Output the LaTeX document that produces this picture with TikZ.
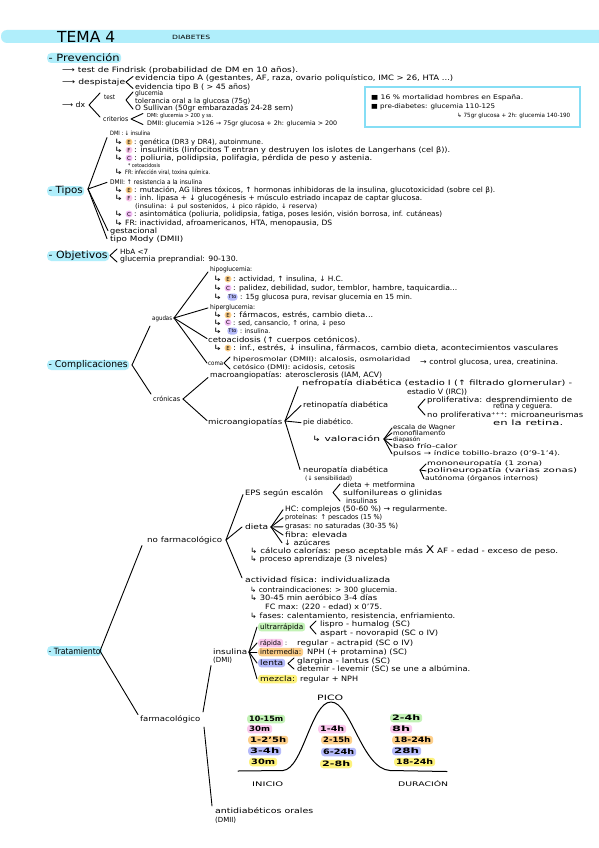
\documentclass[tikz,border=0pt]{standalone}
\usepackage{fontspec}
\setmainfont{DejaVu Sans}
\usepackage{graphicx}
\usetikzlibrary{calc}
\definecolor{hlblue}{HTML}{B0EEFB}
\definecolor{boxc}{HTML}{86DEF5}
\definecolor{corange}{HTML}{FDCF8A}
\definecolor{cpink}{HTML}{FAC8EC}
\definecolor{cviolet}{HTML}{F2BDF4}
\definecolor{cpurple}{HTML}{B5BAFA}
\definecolor{cgreen}{HTML}{C3F2B6}
\definecolor{cyellow}{HTML}{FDF27C}
\newsavebox\fitbox
\newcommand\fitw[2]{\sbox\fitbox{#2}\edef\fsx{\fpeval{(#1)/(\the\wd\fitbox)}}\edef\fsy{\fpeval{max(0.85,min(1.05,sqrt(\fsx)))}}\scalebox{\fsx}[\fsy]{\usebox\fitbox}}
\tikzset{
 txt/.style={anchor=mid west, inner sep=0pt, font=\fontsize{7}{8}\selectfont},
 sml/.style={anchor=mid west, inner sep=0pt, font=\fontsize{6}{7}\selectfont},
 badge/.style={circle, inner sep=0pt, minimum size=7pt, font=\fontsize{5.5}{6}\selectfont},
 ttob/.style={rounded corners=3pt, inner xsep=1pt, inner ysep=0pt, minimum height=7pt, font=\fontsize{5}{6}\selectfont, fill=cpurple},
 hlbox/.style={anchor=west, rounded corners=3pt, inner xsep=2pt, inner ysep=0.8pt, minimum height=8.5pt},
 sec/.style={anchor=west, fill=hlblue, rounded corners=4pt, inner xsep=1.5pt, inner ysep=0pt, minimum height=10pt, font=\fontsize{9.5}{10}\selectfont},
 ln/.style={line width=0.9pt, line cap=round, line join=round},
}
\newcommand\T[5]{\node[txt] (#1) at (#2,#3) {\fitw{#4}{#5}};}
\newcommand\Ts[5]{\node[sml] (#1) at (#2,#3) {\fitw{#4}{#5}};}
\newcommand\Bd[5]{\node[badge, fill=#4] (#1) at (#2,#3) {#5};}
\newcommand\Ar[3]{\node[txt] (#1) at (#2,#3) {\fitw{9}{↳}};}
\newcommand\Sec[5]{\node[sec] (#1) at (#2,#3) {\fitw{#4}{#5}};}
\newcommand\HL[6]{\node[hlbox, fill=#5, font=\fontsize{7}{8}\selectfont] (#1) at (#2,#3) {\fitw{#4}{#6}};}
\newcommand\Lb[6]{\node[hlbox, fill=#5, font=\fontsize{7}{8}\selectfont\bfseries] (#1) at (#2,#3) {\fitw{#4}{#6}};}
\begin{document}
\begin{tikzpicture}[x=1pt,y=-1pt]
\useasboundingbox[fill=white] (0,0) rectangle (599,848);
% header
\fill[hlblue, rounded corners=6pt] (1,30) rectangle (612,43);
\node[anchor=west, inner sep=0pt, font=\fontsize{15}{15}\selectfont] (tema) at (57,37) {\fitw{58}{TEMA 4}};
\node[anchor=west, inner sep=0pt, font=\fontsize{5.5}{6}\selectfont] (diab) at (172,37.5) {\fitw{38}{DIABETES}};
% ---------------- Prevencion
\Sec{sprev}{47}{58}{71}{- Prevención}
\T{p1}{62}{70}{236}{⟶ test de Findrisk (probabilidad de DM en 10 años).}
\T{p2}{62}{82}{63}{⟶ despistaje}
\draw[ln] (133,76.5) -- (126,82) -- (133,88.5);
\T{p2a}{135}{78}{318}{evidencia tipo A (gestantes, AF, raza, ovario poliquístico, IMC > 26, HTA ...)}
\T{p2b}{135}{87}{115}{evidencia tipo B ( > 45 años)}
\T{p3}{62}{105}{23}{⟶ dx}
\draw[ln] (100,93) -- (89,105) -- (100,117);
\T{p3t}{104}{97}{11}{test}
\draw[ln] (133,92) -- (126,100) -- (133,109);
\T{p3a}{135}{93}{28}{glucemia}
\T{p3b}{135}{101}{115}{tolerancia oral a la glucosa (75g)}
\T{p3c}{135}{108}{158}{O Sullivan (50gr embarazadas 24-28 sem)}
\T{p3k}{103}{119}{25}{criterios}
\draw[ln] (143,113.5) -- (131,119) -- (143,124.5);
\Ts{p3d}{147}{115}{66}{DMI: glucemia > 200 y ss.}
\Ts{p3e}{147}{123}{190}{DMII: glucemia >126 → 75gr glucosa + 2h: glucemia > 200}
% box
\draw[boxc, line width=1.6pt] (365,87) rectangle (580,127);
\Ts{b1}{371}{97}{152}{■ 16 \% mortalidad hombres en España.}
\Ts{b2}{371}{106}{124}{■ pre-diabetes: glucemia 110-125}
\Ts{b3}{457}{115}{113}{↳ 75gr glucosa + 2h: glucemia 140-190}
% ---------------- Tipos
\Sec{stip}{47}{191}{34}{- Tipos}
\T{d1}{110}{133}{40}{DMI : ↓ insulina}
\Ar{d1ea}{114}{142}\Bd{d1eb}{129}{142}{corange}{E}\T{d1e}{134}{142}{129}{: genética (DR3 y DR4), autoinmune.}
\Ar{d1fa}{114}{150}\Bd{d1fb}{129}{150}{cpink}{F}\T{d1f}{134}{150}{316}{: insulinitis (linfocitos T entran y destruyen los islotes de Langerhans (cel β)).}
\Ar{d1ca}{114}{158}\Bd{d1cb}{129}{158}{cviolet}{C}\T{d1c}{134}{158}{238}{: poliuria, polidipsia, polifagia, pérdida de peso y astenia.}
\Ts{d1x}{128}{164.5}{32}{* cetoacidosis}
\Ar{d1ra}{114}{172}\T{d1r}{125}{172}{85}{FR: infección viral, toxina química.}
\T{d2}{110}{182}{92}{DMII: ↑ resistencia a la insulina}
\Ar{d2ea}{114}{190}\Bd{d2eb}{129}{190}{corange}{E}\T{d2e}{134}{190}{361}{: mutación, AG libres tóxicos, ↑ hormonas inhibidoras de la insulina, glucotoxicidad (sobre cel β).}
\Ar{d2fa}{114}{198}\Bd{d2fb}{129}{198}{cpink}{F}\T{d2f}{134}{198}{288}{: inh. lipasa + ↓ glucogénesis + músculo estriado incapaz de captar glucosa.}
\Ts{d2i}{135}{206}{182}{(insulina: ↓ pul sostenidos, ↓ pico rápido, ↓ reserva)}
\Ar{d2ca}{114}{214}\Bd{d2cb}{129}{214}{cviolet}{C}\T{d2c}{134}{214}{308}{: asintomática (poliuria, polidipsia, fatiga, poses lesión, visión borrosa, inf. cutáneas)}
\Ar{d2ra}{114}{223}\T{d2r}{125}{223}{207}{FR: inactividad, afroamericanos, HTA, menopausia, DS}
\T{d3}{110}{231}{47}{gestacional}
\T{d4}{110}{239}{73}{tipo Mody (DMII)}
\coordinate (tA) at (88,189);
\draw[ln] (tA) -- ($(d1.west)+(-3,4)$);
\draw[ln] (tA) -- ($(d2.west)+(-3,0)$);
\draw[ln] (tA) -- ($(d3.west)+(-2,-1)$);
\draw[ln] (tA) -- ($(d4.west)+(-3,-1)$);
% ---------------- Objetivos
\Sec{sobj}{47}{256}{59}{- Objetivos}
\draw[ln] (117,249) -- (110,255.5) -- (117,262);
\T{o1}{120}{252}{28}{HbA <7}
\T{o2}{120}{259}{118}{glucemia preprandial: 90-130.}
% ---------------- Complicaciones
\Sec{scom}{47}{365}{79}{- Complicaciones}
\T{ag}{152}{318}{20}{agudas}
\T{cr}{153}{399}{27}{crónicas}
\coordinate (cA) at (132,365);
\draw[ln] (cA) -- ($(ag.west)+(-2,7)$);
\draw[ln] (cA) -- ($(cr.west)+(-2,-5)$);
\T{h1}{210}{269}{42}{hipoglucemia:}
\Ar{h1ea}{213}{279}\Bd{h1eb}{228}{279}{corange}{E}\T{h1e}{233}{279}{110}{: actividad, ↑ insulina, ↓ H.C.}
\Ar{h1ca}{213}{288}\Bd{h1cb}{228}{288}{cviolet}{C}\T{h1c}{233}{288}{224}{: palidez, debilidad, sudor, temblor, hambre, taquicardia...}
\Ar{h1ta}{213}{297}\node[ttob] (h1tb) at (232.5,297) {Tto};\T{h1t}{240}{297}{172}{: 15g glucosa pura, revisar glucemia en 15 min.}
\T{h2}{210}{307}{45}{hiperglucemia:}
\Ar{h2ea}{213}{315}\Bd{h2eb}{228}{315}{corange}{E}\T{h2e}{233}{315}{140}{: fármacos, estrés, cambio dieta...}
\Ar{h2ca}{213}{322.5}\Bd{h2cb}{228}{322.5}{cviolet}{C}\T{h2c}{233}{322.5}{112}{: sed, cansancio, ↑ orina, ↓ peso}
\Ar{h2ta}{213}{331}\node[ttob] (h2tb) at (232.5,331) {Tto};\T{h2t}{240}{331}{30}{: insulina.}
\T{h3}{208}{340}{152}{cetoacidosis (↑ cuerpos cetónicos).}
\Ar{h3ea}{213}{348}\Bd{h3eb}{228}{348}{corange}{E}\T{h3e}{233}{348}{325}{: inf., estrés, ↓ insulina, fármacos, cambio dieta, acontecimientos vasculares}
\T{h4}{208}{363}{15}{coma}
\draw[ln] (230,357) -- (224,363) -- (230,369);
\Ts{h4a}{233}{359}{177}{hiperosmolar (DMII): alcalosis, osmolaridad}
\Ts{h4b}{233}{367}{122}{cetósico (DMI): acidosis, cetosis}
\T{h4c}{420}{362}{138}{→ control glucosa, urea, creatinina.}
\coordinate (aA) at (174,318);
\draw[ln] (aA) -- ($(h1.west)+(-2,2)$);
\draw[ln] (aA) -- ($(h2.west)+(-2,0)$);
\draw[ln] (aA) -- ($(h3.west)+(-1,-2)$);
\draw[ln] (aA) -- ($(h4.west)+(-1,-1)$);
\T{ma}{210}{375}{172}{macroangiopatías: aterosclerosis (IAM, ACV)}
\T{mi}{208}{422}{74}{microangiopatías}
\coordinate (kA) at (183,399);
\draw[ln] (kA) -- ($(ma.west)+(-2,2)$);
\draw[ln] (kA) -- ($(mi.west)+(-1,-2)$);
\T{ne1}{302}{383}{270}{nefropatía diabética (estadio I (↑ filtrado glomerular) -}
\T{ne2}{407}{392}{60}{estadio V (IRC))}
\T{re}{303}{405}{85}{retinopatía diabética}
\draw[ln] (425,399) -- (418,407) -- (425,415);
\T{re1}{427}{400}{145}{proliferativa: desprendimiento de}
\T{re2}{493}{406}{59}{retina y ceguera.}
\T{re3}{427}{415}{156}{no proliferativa⁺⁺⁺: microaneurismas}
\T{re4}{493}{423}{70}{en la retina.}
\T{pi}{303}{422}{50}{pie diabético.}
\T{va}{312}{439}{68}{↳ valoración}
\Ts{v1}{393}{427}{62}{escala de Wagner}
\Ts{v2}{393}{432.5}{52}{monofilamento}
\Ts{v3}{393}{438.5}{27}{diapasón}
\Ts{v4}{393}{446}{64}{baso frío-calor}
\Ts{v5}{393}{453}{167}{pulsos → índice tobillo-brazo (0'9-1'4).}
\coordinate (vA) at (384,439);
\foreach \n in {v1,v2,v3,v4,v5} {\draw[ln] (vA) -- ($(\n.west)+(-1,0)$);}
\T{nu}{303}{470}{85}{neuropatía diabética}
\Ts{nu0}{305}{478}{47}{(↓ sensibilidad)}
\Ts{n1}{427}{463}{115}{mononeuropatía (1 zona)}
\Ts{n2}{427}{470}{150}{polineuropatía (varias zonas)}
\Ts{n3}{425}{478}{113}{autónoma (órganos internos)}
\coordinate (nA) at (420,470);
\foreach \n in {n1,n2,n3} {\draw[ln] (nA) -- ($(\n.west)+(-1,0)$);}
\coordinate (mA) at (285,421);
\draw[ln] (mA) -- ($(ne1.west)+(-4,3)$);
\draw[ln] (mA) -- ($(re.west)+(-2,0)$);
\draw[ln] (mA) -- ($(pi.west)+(-2,0)$);
\draw[ln] (mA) -- ($(nu.west)+(-3,-1)$);
% ---------------- Tratamiento
\Sec{strat}{47}{651}{52}{- Tratamiento}
\T{nf}{147}{540}{75}{no farmacológico}
\T{fa}{140}{719}{60}{farmacológico}
\coordinate (TA) at (100,651);
\draw[ln] (TA) -- ($(nf.west)+(-5,5)$);
\draw[ln] (TA) -- ($(fa.west)+(-2,-5)$);
\T{eps}{245}{493}{78}{EPS según escalón}
\draw[ln] (340,484) -- (333,492.5) -- (340,501);
\T{e1}{343}{485}{72}{dieta + metformina}
\T{e2}{343}{493}{99}{sulfonilureas o glinidas}
\T{e3}{346}{501}{31}{insulinas}
\T{di}{245}{527}{23}{dieta}
\T{di1}{285}{509}{162}{HC: complejos (50-60 \%) → regularmente.}
\T{di2}{285}{517}{97}{proteínas: ↑ pescados (15 \%)}
\T{di3}{285}{526}{113}{grasas: no saturadas (30-35 \%)}
\T{di4}{285}{535}{62}{fibra: elevada}
\T{di5}{284}{543}{46}{↓ azúcares}
\coordinate (dA) at (271,527);
\foreach \n in {di1,di2,di3,di4,di5} {\draw[ln] (dA) -- ($(\n.west)+(-2,0)$);}
\T{ca}{250}{551}{308}{↳ cálculo calorías: peso aceptable más {\fontsize{10}{10}\selectfont X} AF - edad - exceso de peso.}
\T{pr}{250}{559}{137}{↳ proceso aprendizaje (3 niveles)}
\T{af}{245}{580}{145}{actividad física: individualizada}
\T{af1}{250}{590}{147}{↳ contraindicaciones: > 300 glucemia.}
\T{af2}{250}{598}{127}{↳ 30-45 min aeróbico 3-4 días}
\T{af3}{265}{607}{117}{FC max: (220 - edad) x 0'75.}
\T{af4}{250}{616}{205}{↳ fases: calentamiento, resistencia, enfriamiento.}
\coordinate (nfA) at (226,540);
\draw[ln] (nfA) -- ($(eps.west)+(-2,1)$);
\draw[ln] (nfA) -- ($(di.west)+(-3,0)$);
\draw[ln] (nfA) -- ($(af.west)+(-3,-2)$);
\T{in}{213}{652}{34}{insulina}
\T{in2}{213}{660}{19}{(DMI)}
\T{ad1}{215}{811}{98}{antidiabéticos orales}
\T{ad2}{215}{820}{21}{(DMII)}
\coordinate (fA1) at (203,712);
\coordinate (fA2) at (204,727);
\draw[ln] (fA1) -- ($(in2.west)+(-2,5)$);
\draw[ln] (fA2) -- ($(ad1.west)+(-3,-5)$);
\HL{ul}{258}{627}{43}{cgreen}{ultrarrápida}
\HL{ra}{258}{643}{21}{cpink}{rápida}
\HL{im}{258}{652}{41}{corange}{intermedia:}
\HL{le}{258}{663}{23}{cpurple}{lenta}
\HL{mz}{258}{679}{35}{cyellow}{mezcla:}
\coordinate (iA) at (249,652);
\foreach \n in {ul,ra,im,le,mz} {\draw[ln] (iA) -- ($(\n.west)+(-1,0)$);}
\draw[ln] (316,621) -- (310,627) -- (316,634);
\T{u1}{320}{624}{90}{lispro - humalog (SC)}
\T{u2}{320}{633}{118}{aspart - novorapid (SC o IV)}
\T{rac}{285}{643}{2}{:}
\T{ra1}{297}{643}{116}{regular - actrapid (SC o IV)}
\T{im1}{307}{652}{100}{NPH (+ protamina) (SC)}
\draw[ln] (294,658) -- (288,663.5) -- (294,669);
\T{le1}{297}{661}{93}{glargina - lantus (SC)}
\T{le2}{297}{669}{173}{detemir - levemir (SC) se une a albúmina.}
\T{mz1}{300}{679}{58}{regular + NPH}
% curve
\draw[ln, line width=1pt] (238,771) -- (283,770.5) .. controls (303,769) and (311,702) .. (331,702) .. controls (351,702) and (362,769) .. (390,770.5) -- (447,771.5);
\node[anchor=west, inner sep=0pt, font=\fontsize{7}{8}\selectfont] (pico) at (317,698) {\fitw{26}{PICO}};
\node[anchor=west, inner sep=0pt, font=\fontsize{6}{7}\selectfont] (inicio) at (252,784) {\fitw{31}{INICIO}};
\node[anchor=west, inner sep=0pt, font=\fontsize{6}{7}\selectfont] (durac) at (398,784) {\fitw{50}{DURACIÓN}};
\Lb{l1}{247}{719}{34}{cgreen}{10-15m}
\Lb{l2}{247}{729}{21}{cpink}{30m}
\Lb{l3}{248}{740}{36}{corange}{1-2'5h}
\Lb{l4}{248}{751}{29}{cpurple}{3-4h}
\Lb{l5}{249}{762}{24}{cyellow}{30m}
\Lb{m1}{318}{729}{24}{cpink}{1-4h}
\Lb{m2}{321}{740}{27}{corange}{2-15h}
\Lb{m3}{321}{752}{31}{cpurple}{6-24h}
\Lb{m4}{320}{764}{28}{cyellow}{2-8h}
\Lb{r1}{390}{718}{28}{cgreen}{2-4h}
\Lb{r2}{390}{729}{18}{cpink}{8h}
\Lb{r3}{392}{740}{37}{corange}{18-24h}
\Lb{r4}{392}{751}{25}{cpurple}{28h}
\Lb{r5}{394}{762}{37}{cyellow}{18-24h}
\end{tikzpicture}
\end{document}
